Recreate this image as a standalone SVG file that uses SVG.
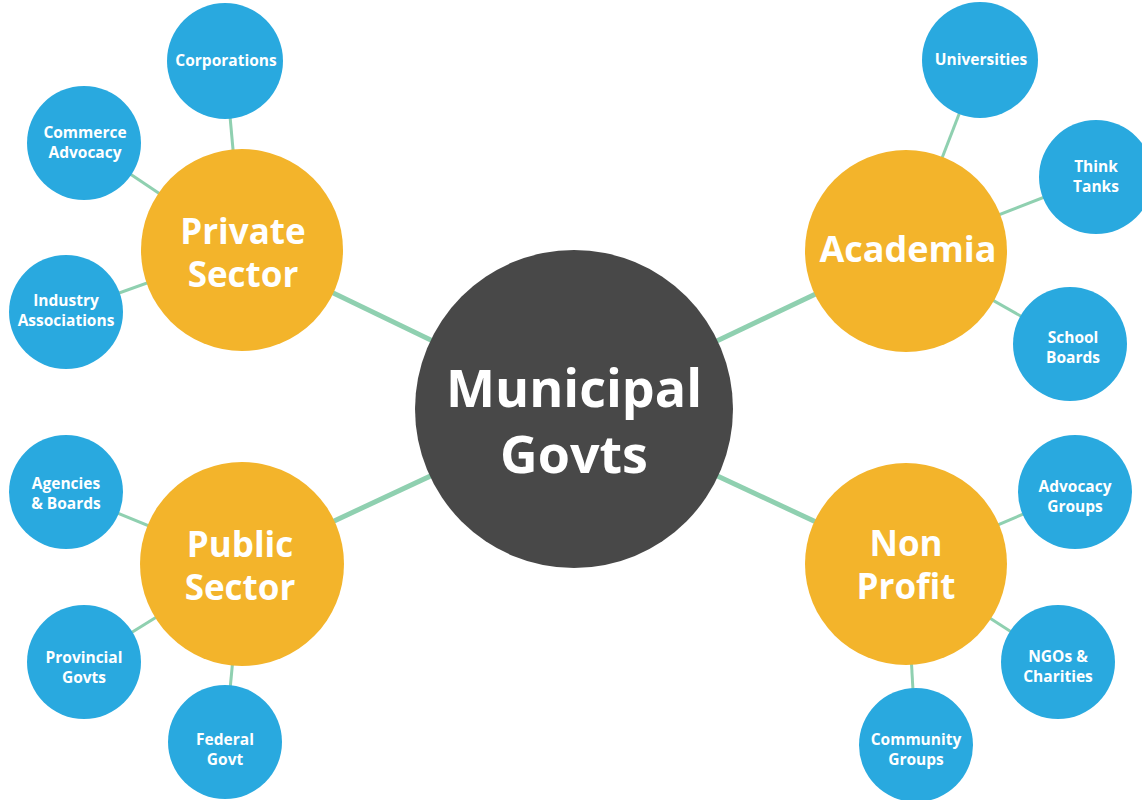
<svg xmlns="http://www.w3.org/2000/svg" width="1142" height="800" viewBox="0 0 1142 800">
<style>
.main{stroke:#8fd0b0;stroke-width:5;fill:none}
.sub{stroke:#8fd0b0;stroke-width:3;fill:none}
.leaf{fill:#29a9df}
.cat{fill:#f3b42b}
.hub{fill:#484848}
text{font-family:"Open Sans","Liberation Sans",sans-serif;font-weight:700;fill:#ffffff;text-anchor:middle}
.t1{font-size:15.5px}
.t2{font-size:35px}
.t2w{font-size:36px}
.t3{font-size:52px}
</style>
<rect width="1142" height="800" fill="#ffffff"/>
<g id="connectors">
<line class="main" x1="574" y1="409" x2="242" y2="249"/>
<line class="main" x1="574" y1="409" x2="906" y2="251"/>
<line class="main" x1="574" y1="409" x2="242" y2="564"/>
<line class="main" x1="574" y1="409" x2="906" y2="564"/>
<line class="sub" x1="242" y1="249" x2="225" y2="61"/>
<line class="sub" x1="242" y1="249" x2="84" y2="143"/>
<line class="sub" x1="242" y1="249" x2="66" y2="312"/>
<line class="sub" x1="906" y1="251" x2="980" y2="60"/>
<line class="sub" x1="906" y1="251" x2="1096" y2="177"/>
<line class="sub" x1="906" y1="251" x2="1070" y2="344"/>
<line class="sub" x1="242" y1="564" x2="66" y2="492"/>
<line class="sub" x1="242" y1="564" x2="84" y2="662"/>
<line class="sub" x1="242" y1="564" x2="225" y2="742"/>
<line class="sub" x1="906" y1="564" x2="1075" y2="492"/>
<line class="sub" x1="906" y1="564" x2="1058" y2="662"/>
<line class="sub" x1="906" y1="564" x2="916" y2="745"/>
</g>
<g id="hub"><circle class="hub" cx="574" cy="409" r="159"/><text class="t3" x="574" y="407">Municipal</text><text class="t3" x="574" y="473">Govts</text></g>
<g id="private"><circle class="cat" cx="242" cy="250" r="101"/><text class="t2" x="243" y="244">Private</text><text class="t2" x="243" y="287">Sector</text></g>
<g id="academia"><circle class="cat" cx="906" cy="251" r="101"/><text class="t2w" x="908" y="262">Academia</text></g>
<g id="public"><circle class="cat" cx="242" cy="564" r="102"/><text class="t2" x="240" y="557">Public</text><text class="t2" x="240" y="600">Sector</text></g>
<g id="nonprofit"><circle class="cat" cx="906" cy="564" r="101"/><text class="t2" x="906" y="556">Non</text><text class="t2" x="906" y="599">Profit</text></g>
<g id="corporations"><circle class="leaf" cx="225" cy="61" r="58"/><text class="t1" x="226" y="66">Corporations</text></g>
<g id="commerce"><circle class="leaf" cx="84" cy="143" r="57"/><text class="t1" x="85" y="138">Commerce</text><text class="t1" x="85" y="158">Advocacy</text></g>
<g id="industry"><circle class="leaf" cx="66" cy="312" r="57"/><text class="t1" x="66" y="306">Industry</text><text class="t1" x="66" y="326">Associations</text></g>
<g id="universities"><circle class="leaf" cx="980" cy="60" r="58"/><text class="t1" x="981" y="65">Universities</text></g>
<g id="thinktanks"><circle class="leaf" cx="1096" cy="177" r="57"/><text class="t1" x="1096" y="172">Think</text><text class="t1" x="1096" y="192">Tanks</text></g>
<g id="schoolboards"><circle class="leaf" cx="1070" cy="344" r="57"/><text class="t1" x="1073" y="343">School</text><text class="t1" x="1073" y="363">Boards</text></g>
<g id="agencies"><circle class="leaf" cx="66" cy="492" r="57"/><text class="t1" x="66" y="489">Agencies</text><text class="t1" x="66" y="509">&amp; Boards</text></g>
<g id="provincial"><circle class="leaf" cx="84" cy="662" r="57"/><text class="t1" x="84" y="663">Provincial</text><text class="t1" x="84" y="683">Govts</text></g>
<g id="federal"><circle class="leaf" cx="225" cy="742" r="57"/><text class="t1" x="225" y="745">Federal</text><text class="t1" x="225" y="765">Govt</text></g>
<g id="advocacy"><circle class="leaf" cx="1075" cy="492" r="57"/><text class="t1" x="1075" y="492">Advocacy</text><text class="t1" x="1075" y="512">Groups</text></g>
<g id="ngos"><circle class="leaf" cx="1058" cy="662" r="57"/><text class="t1" x="1058" y="662">NGOs &amp;</text><text class="t1" x="1058" y="682">Charities</text></g>
<g id="community"><circle class="leaf" cx="916" cy="745" r="57"/><text class="t1" x="916" y="745">Community</text><text class="t1" x="916" y="765">Groups</text></g>
</svg>
